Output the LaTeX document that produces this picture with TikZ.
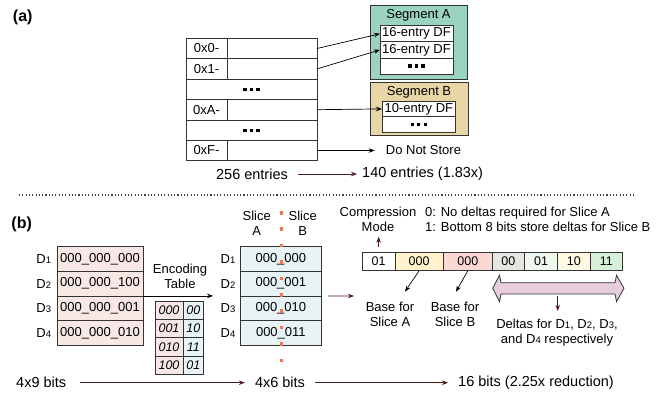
\documentclass[tikz,border=0pt]{standalone}
\usepackage{fontspec}
\setmainfont{Liberation Sans}
\usetikzlibrary{arrows.meta,calc}

\definecolor{segA}{HTML}{9AD4BE}
\definecolor{segB}{HTML}{E9D6A6}
\definecolor{pinkc}{HTML}{F8E8E5}
\definecolor{bluec}{HTML}{E8F3F6}
\definecolor{maroonc}{HTML}{4E1C1C}
\definecolor{orng}{HTML}{E8795A}
\definecolor{bitY}{HTML}{FFF2CC}
\definecolor{bitP}{HTML}{FAD9D5}
\definecolor{bitG}{HTML}{E6E6E1}
\definecolor{bitLG}{HTML}{EFF8EE}
\definecolor{bitLY}{HTML}{FFF9E3}
\definecolor{bitGr}{HTML}{D5EFD9}
\definecolor{dblc}{HTML}{E8CEDC}
\definecolor{bordc}{HTML}{333333}

\newcommand{\dd}[1]{D{\fontsize{9.5}{10}\selectfont #1}}
\newcommand{\dotsq}{\rule{3.2pt}{3.2pt}\hspace{3.3pt}\rule{3.2pt}{3.2pt}\hspace{3.3pt}\rule{3.2pt}{3.2pt}}

\tikzset{
  cell/.style={draw=bordc, line width=0.8pt, inner sep=0pt, outer sep=0pt,
    font=\fontsize{13}{15}\selectfont, anchor=center},
  lbl/.style={inner sep=0pt, font=\fontsize{13}{15}\selectfont, align=center},
  biglbl/.style={inner sep=0pt, font=\fontsize{14.5}{16}\selectfont},
  arr/.style={-{Stealth[length=6pt,width=4.5pt]}, line width=0.7pt, draw=black},
  marr/.style={arr, draw=maroonc},
  enck/.style={cell, fill=pinkc, minimum width=28pt, minimum height=18.3pt,
    font=\itshape\fontsize{12.5}{14}\selectfont},
  encv/.style={cell, fill=bluec, minimum width=20.5pt, minimum height=18.3pt,
    font=\itshape\fontsize{12.5}{14}\selectfont},
  bit/.style={cell, minimum height=18.4pt, font=\fontsize{12.5}{14}\selectfont},
}

\begin{document}
\begin{tikzpicture}[x=1pt,y=-1pt]
\fill[white] (0,0) rectangle (658,392);
\useasboundingbox (0,0) rectangle (658,392);

% ---------------- (a) ----------------
\node[inner sep=0pt, font=\bfseries\fontsize{16}{18}\selectfont] (la) at (22.7,17.5) {(a)};

\node[cell, minimum width=41pt, minimum height=20.4pt] (k0) at (206.5,48.5) {0x0-};
\node[cell, minimum width=90pt, minimum height=20.4pt] (v0) at (272,48.5) {};
\node[cell, minimum width=41pt, minimum height=20.4pt] (k1) at (206.5,68.9) {0x1-};
\node[cell, minimum width=90pt, minimum height=20.4pt] (v1) at (272,68.9) {};
\node[cell, minimum width=131pt, minimum height=20.4pt] (e1) at (251.5,89.3) {\dotsq};
\node[cell, minimum width=41pt, minimum height=20.4pt] (kA) at (206.5,109.7) {0xA-};
\node[cell, minimum width=90pt, minimum height=20.4pt] (vA) at (272,109.7) {};
\node[cell, minimum width=131pt, minimum height=20.4pt] (e2) at (251.5,130.1) {\dotsq};
\node[cell, minimum width=41pt, minimum height=20.4pt] (kF) at (206.5,150.5) {0xF-};
\node[cell, minimum width=90pt, minimum height=20.4pt] (vF) at (272,150.5) {};

% Segment A
\node[cell, fill=segA, minimum width=97pt, minimum height=73.3pt] (sgA) at (418.5,42.35) {};
\node[lbl] (sgAt) at (418.5,15) {Segment A};
\node[cell, fill=white, minimum width=73pt, minimum height=16.1pt] (dfA1) at (416.5,33.75) {16-entry DF};
\node[cell, fill=white, minimum width=73pt, minimum height=16.1pt] (dfA2) at (416.5,49.85) {16-entry DF};
\node[cell, fill=white, minimum width=73pt, minimum height=16.1pt] (dfA3) at (416.5,65.95) {\dotsq};

% Segment B
\node[cell, fill=segB, minimum width=98pt, minimum height=53.7pt] (sgB) at (419,108.85) {};
\node[lbl] (sgBt) at (419,92.5) {Segment B};
\node[cell, fill=white, minimum width=73.7pt, minimum height=15.8pt] (dfB1) at (418.85,108.9) {10-entry DF};
\node[cell, fill=white, minimum width=73.7pt, minimum height=15.8pt] (dfB2) at (418.85,124.7) {\dotsq};

\draw[arr] (v0.east) -- (dfA1.west);
\draw[arr] (v1.east) -- (dfA2.west);
\draw[arr] (vA.east) -- (dfB1.west);
\node[lbl, anchor=west] (dns) at (385.7,150.5) {Do Not Store};
\draw[arr, shorten >=11pt] (vF.east) -- (dns.west);

\node[biglbl] (n256) at (252,174) {256 entries};
\node[biglbl, anchor=west] (n140) at (362,174) {140 entries (1.83x)};
\draw[marr, shorten <=10pt, shorten >=5pt] (n256.east) -- (n140.west);

% separator
\draw[black!75, line width=1.1pt, dash pattern=on 1.1pt off 2.2pt] (19,195) -- (635,195);

% ---------------- (b) ----------------
\node[inner sep=0pt, font=\bfseries\fontsize{16}{18}\selectfont] (lb) at (21.7,224) {(b)};

\node[cell, fill=pinkc, minimum width=86pt, minimum height=24.6pt] (d1) at (100,259) {000\_000\_000};
\node[cell, fill=pinkc, minimum width=86pt, minimum height=24.6pt] (d2) at (100,283.6) {000\_000\_100};
\node[cell, fill=pinkc, minimum width=86pt, minimum height=24.6pt] (d3) at (100,308.2) {000\_000\_001};
\node[cell, fill=pinkc, minimum width=86pt, minimum height=24.6pt] (d4) at (100,332.8) {000\_000\_010};
\node[lbl] (dl1) at (43.7,259) {\dd1};
\node[lbl] (dl2) at (43.7,283.6) {\dd2};
\node[lbl] (dl3) at (43.7,308.2) {\dd3};
\node[lbl] (dl4) at (43.7,332.8) {\dd4};

\node[lbl] (enc) at (180,276.5) {Encoding\\Table};

\node[enck] (ek1) at (169,310.15) {000};
\node[encv] (ev1) at (193.25,310.15) {00};
\node[enck] (ek2) at (169,328.45) {001};
\node[encv] (ev2) at (193.25,328.45) {10};
\node[enck] (ek3) at (169,346.75) {010};
\node[encv] (ev3) at (193.25,346.75) {11};
\node[enck] (ek4) at (169,365.05) {100};
\node[encv] (ev4) at (193.25,365.05) {01};

\node[cell, fill=bluec, minimum width=81.7pt, minimum height=24.6pt] (s1) at (280.85,259) {000\_000};
\node[cell, fill=bluec, minimum width=81.7pt, minimum height=24.6pt] (s2) at (280.85,283.6) {000\_001};
\node[cell, fill=bluec, minimum width=81.7pt, minimum height=24.6pt] (s3) at (280.85,308.2) {000\_010};
\node[cell, fill=bluec, minimum width=81.7pt, minimum height=24.6pt] (s4) at (280.85,332.8) {000\_011};
\node[lbl] (sl1) at (228,259) {\dd1};
\node[lbl] (sl2) at (228,283.6) {\dd2};
\node[lbl] (sl3) at (228,308.2) {\dd3};
\node[lbl] (sl4) at (228,332.8) {\dd4};
\node[lbl] (slA) at (256.7,223) {Slice\\A};
\node[lbl] (slB) at (302.7,223) {Slice\\B};
\draw[orng, line width=3.5pt, dash pattern=on 3.5pt off 12.9pt] (281.7,211) -- (281.7,362.5);

\draw[arr, shorten >=27pt] (d2.south east) -- (s2.south west);

\coordinate (sbTip) at (354,296);
\draw[marr, shorten <=6.3pt] (s2.south east) -- (sbTip);

% bit field
\node[bit, fill=white, minimum width=32.7pt] (c1) at (378.65,261.5) {01};
\node[bit, fill=bitY, minimum width=48.3pt] (c2) at (419.15,261.5) {000};
\node[bit, fill=bitP, minimum width=49pt] (c3) at (467.8,261.5) {000};
\node[bit, fill=bitG, minimum width=32pt] (c4) at (508.3,261.5) {00};
\node[bit, fill=bitLG, minimum width=33.4pt] (c5) at (541,261.5) {01};
\node[bit, fill=bitLY, minimum width=32.3pt] (c6) at (573.85,261.5) {10};
\node[bit, fill=bitGr, minimum width=32.7pt] (c7) at (606.35,261.5) {11};

\node[lbl] (cm) at (378,219.2) {Compression\\Mode};
\coordinate (cmTip) at (378.65,236.7);
\draw[marr, shorten <=5.6pt] (c1.north) -- (cmTip);

\node[lbl, anchor=west, align=left] (expl) at (425,219.2) {0: No deltas required for Slice A\\1: Bottom 8 bits store deltas for Slice B};

\coordinate (baTip) at (405,291.7);
\coordinate (bbTip) at (456,291.7);
\draw[arr] (c2.south) -- (baTip);
\draw[arr] (c3.south) -- (bbTip);
\node[lbl] (baseA) at (390,314.2) {Base for\\Slice A};
\node[lbl] (baseB) at (455,314.2) {Base for\\Slice B};

% double arrow
\draw[draw=bordc, line width=0.8pt, fill=dblc, line join=miter]
  (492.7,288.3) -- (499.5,275.3) -- (501,282.7) -- (615,282.7) -- (616.5,275.3)
  -- (624,288.3) -- (616.5,301.5) -- (615,293.9) -- (501,293.9) -- (499.5,301.5) -- cycle;
\coordinate (dStart) at (557.7,296);
\coordinate (dEnd) at (557.7,311);
\draw[marr] (dStart) -- (dEnd);
\node[lbl] (deltas) at (557,332.5) {Deltas for \dd1, \dd2, \dd3,\\and \dd4 respectively};

% bottom summary
\node[biglbl] (b49) at (41.2,382.7) {4x9 bits};
\node[biglbl] (b46) at (280,382.7) {4x6 bits};
\node[biglbl, anchor=west] (b16) at (458,382.7) {16 bits (2.25x reduction)};
\draw[marr, shorten <=13.3pt, shorten >=10pt] (b49.east) -- (b46.west);
\draw[marr, shorten <=10pt, shorten >=10pt] (b46.east) -- (b16.west);
\end{tikzpicture}
\end{document}
